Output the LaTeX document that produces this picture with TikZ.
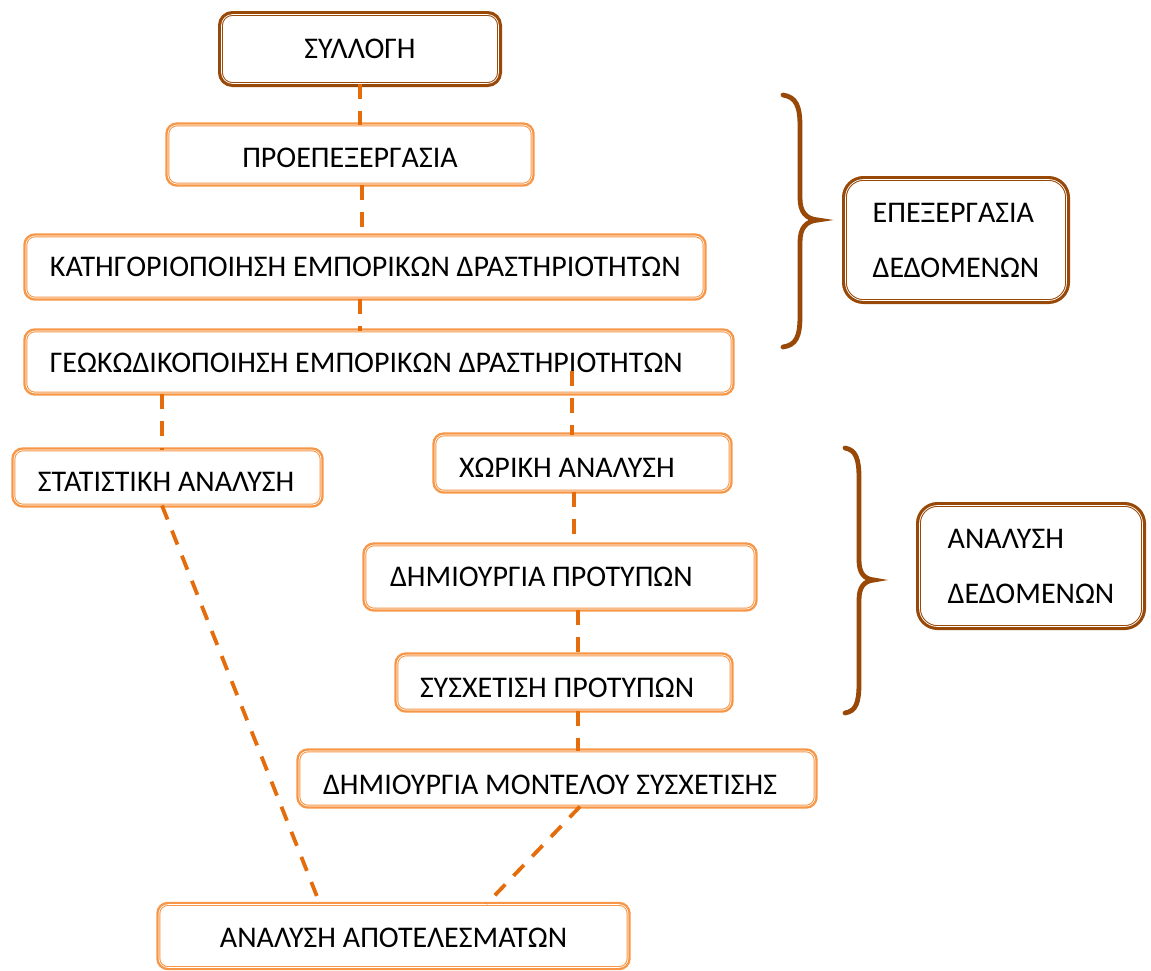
\documentclass[tikz,border=0pt]{standalone}
\usepackage{fontspec}
\setmainfont{Carlito}
\usetikzlibrary{calc}
\definecolor{boxor}{HTML}{F79646}
\definecolor{lineor}{HTML}{E46C0A}
\definecolor{brownc}{HTML}{984807}
\newcommand{\boxtxt}[3]{\makebox[#1pt][l]{\hspace*{#2pt}#3}}
\tikzset{
  obox/.style={draw=boxor, fill=white, line width=1.0pt, double=white, double distance=0.6pt,
    preaction={draw=boxor, line width=5.4pt}, rounded corners=9pt, inner sep=0pt,
    font=\fontsize{30}{36}\selectfont, text depth=0pt},
  bbox/.style={draw=brownc, fill=white, line width=1.0pt, double=white, double distance=0.7pt,
    preaction={draw=brownc, line width=7pt}, rounded corners=14pt, inner sep=0pt,
    font=\fontsize{30}{55}\selectfont},
  conn/.style={draw=lineor, line width=3.8pt, dash pattern=on 15pt off 12pt},
  brace/.style={draw=brownc, line width=4.8pt, line cap=round}
}
\begin{document}
\begin{tikzpicture}[x=1pt,y=-1pt]
\useasboundingbox (0,0) rectangle (1151,970);

\node[bbox, rounded corners=11pt, text depth=0pt, text height=18pt, minimum width=277pt, minimum height=69pt] (syl) at (360,49) {ΣΥΛΛΟΓΗ};
\node[obox, text height=25pt, minimum width=364pt, minimum height=59pt] (proep) at (350,154.5) {ΠΡΟΕΠΕΞΕΡΓΑΣΙΑ};
\node[obox, text height=19.5pt, minimum width=678pt, minimum height=62pt] (kat) at (365,267) {\boxtxt{678}{24}{ΚΑΤΗΓΟΡΙΟΠΟΙΗΣΗ ΕΜΠΟΡΙΚΩΝ ΔΡΑΣΤΗΡΙΟΤΗΤΩΝ}};
\node[obox, text height=21.5pt, minimum width=706pt, minimum height=62pt] (geo) at (379,362) {\boxtxt{706}{24}{ΓΕΩΚΩΔΙΚΟΠΟΙΗΣΗ ΕΜΠΟΡΙΚΩΝ ΔΡΑΣΤΗΡΙΟΤΗΤΩΝ}};
\node[obox, text height=28.5pt, minimum width=307pt, minimum height=55pt] (stat) at (167.5,477.5) {\boxtxt{307}{24}{ΣΤΑΤΙΣΤΙΚΗ ΑΝΑΛΥΣΗ}};
\node[obox, text height=29.5pt, minimum width=295pt, minimum height=56pt] (xor) at (582.5,463) {\boxtxt{295}{24}{ΧΩΡΙΚΗ ΑΝΑΛΥΣΗ}};
\node[obox, text height=19.5pt, minimum width=390pt, minimum height=64pt] (dp) at (560,577) {\boxtxt{390}{25}{ΔΗΜΙΟΥΡΓΙΑ ΠΡΟΤΥΠΩΝ}};
\node[obox, text height=30.5pt, minimum width=334pt, minimum height=55pt] (sx) at (564,682.5) {\boxtxt{334}{23}{ΣΥΣΧΕΤΙΣΗ ΠΡΟΤΥΠΩΝ}};
\node[obox, text height=31.5pt, minimum width=516pt, minimum height=55pt] (dm) at (557,778.5) {\boxtxt{516}{24}{ΔΗΜΙΟΥΡΓΙΑ ΜΟΝΤΕΛΟΥ ΣΥΣΧΕΤΙΣΗΣ}};
\node[obox, text height=23.5pt, minimum width=469pt, minimum height=63pt] (res) at (393.5,936) {ΑΝΑΛΥΣΗ ΑΠΟΤΕΛΕΣΜΑΤΩΝ};

\node[bbox, align=left, rounded corners=18pt, minimum width=221pt, minimum height=121pt] (epx) at (956,240) {ΕΠΕΞΕΡΓΑΣΙΑ\\ΔΕΔΟΜΕΝΩΝ};
\node[bbox, align=left, rounded corners=18pt, minimum width=223pt, minimum height=121pt] (anl) at (1031,566) {ΑΝΑΛΥΣΗ\\ΔΕΔΟΜΕΝΩΝ};

% braces
\draw[brace] (783,95) .. controls (796,97) and (800,106) .. (800,126) -- (800,198)
  .. controls (800,212) and (806,219) .. (818,220)
  .. controls (806,221) and (800,228) .. (800,242) -- (800,316)
  .. controls (800,337) and (796,345) .. (783,347);
\draw[brace] (845,448) .. controls (856,450) and (859,459) .. (859,478) -- (859,560)
  .. controls (859,573) and (864,579) .. (874,580)
  .. controls (864,581) and (859,587) .. (859,600) -- (859,683)
  .. controls (859,703) and (856,711) .. (845,713);

% connectors
\draw[conn] (syl.south) -- (syl.south |- proep.north);
\draw[conn] ([xshift=12pt]proep.south) -- ([xshift=12pt]proep.south |- kat.north);
\draw[conn] ([xshift=-5pt]kat.south) -- ([xshift=-5pt]kat.south |- geo.north);
\draw[conn] ([xshift=-5.5pt]stat.north |- geo.south) -- ([xshift=-5.5pt]stat.north);
\coordinate (gs) at (572,371);
\draw[conn] (gs) -- (gs |- xor.north);
\draw[conn] ([xshift=-8.5pt]xor.south) -- ([xshift=-8.5pt]xor.south |- dp.north);
\draw[conn] ([xshift=18pt]dp.south) -- ([xshift=18pt]dp.south |- sx.north);
\draw[conn] ([xshift=14pt]sx.south) -- ([xshift=14pt]sx.south |- dm.north);
\draw[conn] ([xshift=-5.5pt]stat.south) -- ([xshift=-73.5pt]res.north);
\draw[conn] ([xshift=23pt]dm.south) -- ([xshift=93pt]res.north);
\end{tikzpicture}
\end{document}
